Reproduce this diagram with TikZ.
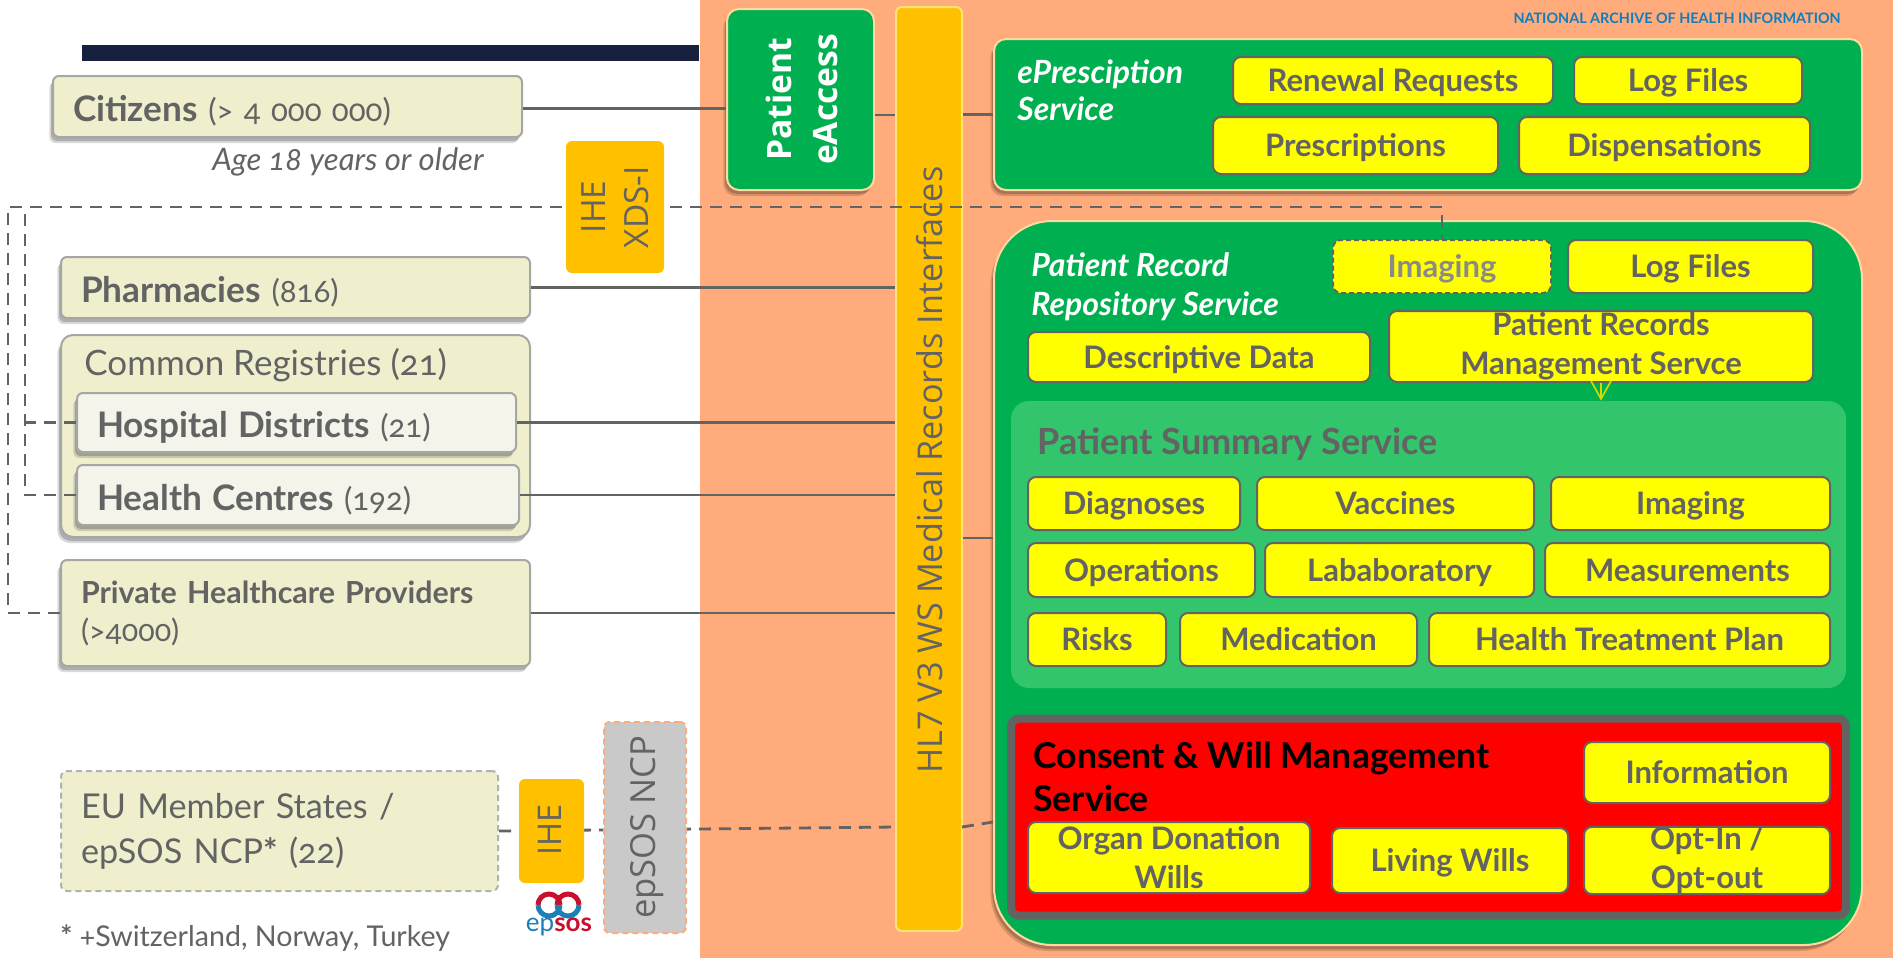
\documentclass[tikz,border=0pt]{standalone}
\usepackage{fontspec}
\setmainfont[Numbers=OldStyle]{Lato}
\newfontfamily\wideface{Open Sans}
\usetikzlibrary{shadows,arrows.meta}

\definecolor{peach}{HTML}{FFAB7B}
\definecolor{navy}{HTML}{17203F}
\definecolor{darkgrey}{HTML}{636363}
\definecolor{paleedge}{HTML}{FFD9A0}
\definecolor{svcgreen}{HTML}{00B050}
\definecolor{sumgreen}{HTML}{33C56B}
\definecolor{cream}{HTML}{EFEFCE}
\definecolor{offwhite}{HTML}{F4F4EA}
\definecolor{amber}{HTML}{FFC000}
\definecolor{baredge}{HTML}{FFE27A}
\definecolor{ncpgrey}{HTML}{C9C9C9}
\definecolor{itemyellow}{HTML}{FFFF00}
\definecolor{arrowyellow}{HTML}{D9D900}
\definecolor{archblue}{HTML}{0F7EC0}
\definecolor{epblue}{HTML}{1C7FB5}
\definecolor{epred}{HTML}{C8102E}

\tikzset{
    wh/.style 2 args={minimum width=#1*0.5pt, minimum height=#2*0.5pt},
    lw/.style={text width=#1*0.5pt-20pt, inner xsep=10pt, minimum width=#1*0.5pt},
    softshadow/.style={
        drop shadow={shadow xshift=-1.8pt, shadow yshift=-3pt, fill=black, opacity=0.15},
        drop shadow={shadow xshift=-1pt, shadow yshift=-2pt, fill=black, opacity=0.2}},
    orgbase/.style={rectangle, rounded corners=3pt, draw=black!35, line width=1pt, fill=cream, align=left, text=darkgrey, inner ysep=0pt},
    org/.style={orgbase, softshadow},
    subrg/.style={org, fill=offwhite},
    oneline/.style={text height=15pt, text depth=0pt, font=\fontsize{15.6}{19}\selectfont},
    service/.style={rectangle, rounded corners=6pt, draw=paleedge, line width=1pt, fill=svcgreen, softshadow},
    item/.style={rectangle, rounded corners=4pt, draw=darkgrey, line width=1pt, fill=itemyellow, text=darkgrey, align=center, inner sep=0pt, text height=11pt, text depth=0pt, font=\fontsize{15.5}{19.5}\selectfont\bfseries},
    twolines/.style={text height={}, text depth={}},
    amberbox/.style={rectangle, rounded corners=3pt, fill=amber},
    title/.style={text=white, align=left, anchor=west, inner sep=0pt, font=\fontsize{16}{19}\selectfont\bfseries\itshape},
    vert/.style={rotate=90, align=center, inner sep=0pt, text=darkgrey, font=\wideface\fontsize{16.3}{23}\selectfont},
    link/.style={draw=darkgrey, line width=1.2pt},
    dashlink/.style={link, line width=1.4pt, dash pattern=on 6pt off 4pt},
    note/.style={text=darkgrey, inner sep=0pt, anchor=west},
}
\newcommand{\orgname}[1]{\textbf{\fontsize{17.6}{19}\selectfont #1}}

\begin{document}
\begin{tikzpicture}[x=0.5pt, y=-0.5pt]
    \useasboundingbox (0,0) rectangle (1893,958);
    \fill [peach] (700,0) rectangle (1893,958);
    \fill [navy] (82,45) rectangle (699,61);

    % left column
    \node [org, oneline, lw=469, minimum height=30.5pt] (citizens) at (287.5,106.5) {\orgname{Citizens} (> 4 000 000)};
    \node [note, font=\fontsize{15.5}{19}\selectfont\itshape] (agenote) at (212,162) {Age 18 years or older};
    \node [org, oneline, lw=469, minimum height=30.5pt] (pharmacies) at (295.5,287.5) {\orgname{Pharmacies} (816)};
    \node [org, rounded corners=6pt, wh={469}{202}] (registries) at (295.5,436) {};
    \node [note, font=\fontsize{17.5}{19}\selectfont] (registriestitle) at (84,365) {Common Registries (21)};
    \node [subrg, oneline, lw=439, minimum height=29.5pt] (hospitals) at (296.5,422.5) {\orgname{Hospital Districts} (21)};
    \node [subrg, oneline, lw=442, minimum height=30pt] (centres) at (298,495) {\orgname{Health Centres} (192)};
    \node [org, lw=469, minimum height=53pt, font=\fontsize{15.2}{19}\selectfont] (private) at (295.5,613) {\textbf{Private Healthcare Providers}\\(>4000)};
    \node [orgbase, lw=437, minimum height=60pt, draw=black!30, dash pattern=on 3pt off 2pt, font=\fontsize{17.1}{22.5}\selectfont] (member) at (279.5,831) {EU Member States /\\epSOS NCP\textbf{*} (22)};
    \node [note, font=\fontsize{14.3}{19}\selectfont] (footnote) at (60,938) {\textbf{*} +Switzerland, Norway, Turkey};

    % interface bar and services
    \node [rectangle, rounded corners=3pt, draw=baredge, line width=1pt, fill=amber, wh={66}{924}] (hl7) at (929,469) {};
    \node [vert, font=\wideface\fontsize{17.1}{20}\selectfont] (hl7text) at (930,470) {HL7 V3 WS Medical Records Interfaces};
    \node [service, wh={147}{181}] (eaccess) at (800.5,99.5) {};
    \node [vert, text=white, font=\wideface\fontsize{16.8}{23}\selectfont\bfseries] (eaccesstext) at (802,99.5) {Patient\\eAccess};
    \node [service, wh={868}{151}] (eprescription) at (1428,114.5) {};
    \node [title, font=\fontsize{16}{18.5}\selectfont\bfseries\itshape] (eprescriptiontitle) at (1017,90.5) {ePresciption\\Service};
    \node [item, wh={320}{47}] (renewal) at (1393,80.5) {Renewal Requests};
    \node [item, wh={228}{47}] (prescriptionlog) at (1688,80.5) {Log Files};
    \node [item, wh={285}{57}] (prescriptions) at (1355.5,145.5) {Prescriptions};
    \node [item, wh={291}{57}] (dispensations) at (1664.5,145.5) {Dispensations};

    \node [service, rounded corners=29pt, wh={868}{724}] (repository) at (1428,583) {};
    \node [title, font=\fontsize{16}{19.5}\selectfont\bfseries\itshape] (repositorytitle) at (1031,287) {Patient Record\\Repository Service};
    \node [item, dash pattern=on 2.5pt off 1.5pt, text=darkgrey!75, wh={218}{53}] (imaging) at (1442,266.5) {Imaging};
    \node [item, wh={245}{53}] (repositorylog) at (1690.5,266.5) {Log Files};
    \node [item, wh={342}{50}] (descriptive) at (1199,357) {Descriptive Data};
    \node [item, twolines, wh={424}{71}] (records) at (1601,346.5) {Patient Records\\Management Servce};

    \node [rectangle, rounded corners=9pt, fill=sumgreen, wh={835}{287}] (summary) at (1428.5,544.5) {};
    \node [title, text=darkgrey, font=\fontsize{18}{22}\selectfont\bfseries] (summarytitle) at (1037,444) {Patient Summary Service};
    \node [item, wh={212}{53}] (diagnoses) at (1134,503.5) {Diagnoses};
    \node [item, wh={277}{53}] (vaccines) at (1395.5,503.5) {Vaccines};
    \node [item, wh={279}{53}] (summaryimaging) at (1690.5,503.5) {Imaging};
    \node [item, wh={227}{54}] (operations) at (1141.5,570) {Operations};
    \node [item, wh={269}{54}] (laboratory) at (1399.5,570) {Lababoratory};
    \node [item, wh={285}{54}] (measurements) at (1687.5,570) {Measurements};
    \node [item, wh={138}{53}] (risks) at (1097,639.5) {Risks};
    \node [item, wh={237}{53}] (medication) at (1298.5,639.5) {Medication};
    \node [item, wh={401}{53}] (treatment) at (1629.5,639.5) {Health Treatment Plan};

    \node [rectangle, rounded corners=4pt, draw=darkgrey, line width=4pt, fill=red, wh={835}{197}] (consent) at (1428.5,817) {};
    \node [title, text=black, font=\fontsize{17.8}{21.5}\selectfont\bfseries] (consenttitle) at (1033,776.5) {Consent \& Will Management\\Service};
    \node [item, wh={246}{61}] (information) at (1707,772.5) {Information};
    \node [item, twolines, wh={282}{71}] (organ) at (1169,857.5) {Organ Donation\\Wills};
    \node [item, wh={236}{65}] (living) at (1450,860.5) {Living Wills};
    \node [item, twolines, wh={246}{65}] (optin) at (1707,860.5) {Opt-In /\\Opt-out};

    \node [anchor=east, inner sep=0pt, text=archblue, font=\fontsize{7.2}{8}\selectfont\bfseries] (archive) at (1841,18) {NATIONAL ARCHIVE OF HEALTH INFORMATION};

    % connectors
    \draw [link] ([yshift=-1pt]citizens.east) -- ([yshift=-1pt]eaccess.west |- citizens.east);
    \draw [link] ([yshift=-7.75pt]eaccess.east) -- ([yshift=-7.75pt]eaccess.east -| hl7.west);
    \draw [link] (hl7.east |- eprescription.west) -- (eprescription.west);
    \draw [link] (pharmacies.east) -- (hl7.west |- pharmacies.east);
    \draw [link] (hospitals.east) -- (hl7.west |- hospitals.east);
    \draw [link] (centres.east) -- (hl7.west |- centres.east);
    \draw [link] (private.east) -- (hl7.west |- private.east);
    \draw [link] ([yshift=22.5pt]hl7.east |- repository.west) -- ([yshift=22.5pt]repository.west);
    \draw [->, >={Straight Barb[length=9pt, width=10pt]}, draw=arrowyellow, line width=0.8pt] (records.south) -- (summary.north -| records.south);

    \coordinate (busouter) at (8,207);
    \coordinate (businner) at (25,207);
    \coordinate (memberport) at (896,827);
    \coordinate (consentport) at (962,827);
    \draw [dashlink] (private.west) -| (busouter) -- (imaging.north |- busouter) -- (imaging.north);
    \draw [dashlink] (centres.west) -| (businner);
    \draw [dashlink] (hospitals.west) -- (hospitals.west -| businner);
    \draw [dashlink] (member.east) -- (memberport);
    \draw [dashlink] (consentport) -- ([yshift=-119.5pt]repository.west);

    % adapters drawn over the dashed lines
    \node [amberbox, wh={98}{132}] (xds) at (615,207) {};
    \node [vert, font=\wideface\fontsize{16.7}{21.5}\selectfont] (xdstext) at (615,207) {IHE\\XDS-I};
    \node [amberbox, wh={65}{104}] (ihe) at (551.5,831) {};
    \node [vert] (ihetext) at (550,830) {IHE};
    \node [rectangle, rounded corners=3pt, draw=peach, line width=1pt, dash pattern=on 3pt off 2pt, fill=ncpgrey, wh={82}{211}] (ncp) at (645,827.5) {};
    \node [vert, font=\wideface\fontsize{17.3}{20}\selectfont] (ncptext) at (647,827) {epSOS NCP};

    % logo
    \draw [epred, line width=2.5pt] (538,905) arc [start angle=180, end angle=0, radius=5.5pt] (557,905) arc [start angle=180, end angle=0, radius=5.5pt];
    \draw [epblue, line width=2.5pt] (538,905) arc [start angle=180, end angle=360, radius=5.5pt] (557,905) arc [start angle=180, end angle=360, radius=5.5pt];
    \node [inner sep=0pt, font=\fontsize{13}{15}\selectfont] (epsos) at (559,927) {\textcolor{epblue}{ep}\textcolor{epred}{\bfseries sos}};
\end{tikzpicture}
\end{document}
